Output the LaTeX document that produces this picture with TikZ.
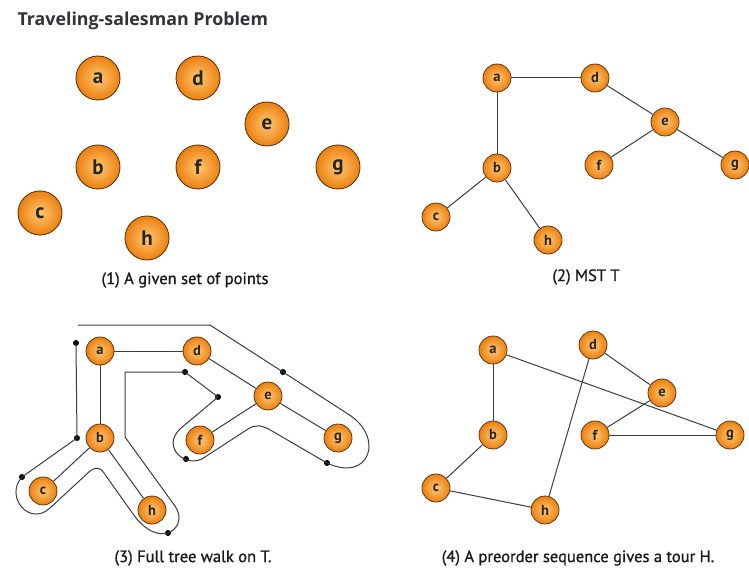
\documentclass[tikz,border=0pt]{standalone}
\usepackage{fontspec}
\setmainfont{PT Sans}
\newfontfamily\headfont{Open Sans}
\newfontfamily\capfont[FakeBold=0.9]{PT Sans}
\definecolor{ballout}{RGB}{236,128,16}
\definecolor{ballin}{RGB}{255,200,115}
\definecolor{ballrim}{RGB}{95,55,20}
\definecolor{edgegray}{RGB}{60,60,60}
\definecolor{titlegray}{RGB}{50,50,55}
\definecolor{capgray}{RGB}{25,25,25}
\begin{document}
\begin{tikzpicture}[x=1pt,y=-1pt,
  bigball/.style={circle, draw=ballrim, line width=0.9pt, inner color=ballin, outer color=ballout,
    minimum size=44pt, inner sep=0pt, font=\bfseries\fontsize{21}{21}\selectfont, text=black!85},
  smallball/.style={circle, draw=ballrim, line width=0.8pt, inner color=ballin, outer color=ballout,
    minimum size=28pt, inner sep=0pt, font=\bfseries\fontsize{14.5}{14.5}\selectfont, text=black!85},
  treeedge/.style={draw=edgegray, line width=1.0pt},
  walkline/.style={draw=edgegray, line width=1.0pt},
  walkdot/.style={circle, fill=black, inner sep=0pt, minimum size=6pt},
  caption/.style={font=\capfont\fontsize{16.5}{18}\selectfont, text=capgray},
]
\useasboundingbox (0,0) rectangle (749,569);

% heading
\node[anchor=west, font=\headfont\bfseries\fontsize{17.8}{20}\selectfont, text=titlegray]
  (title) at (14,21) {Traveling-salesman Problem};

% (1) the points
\foreach \n/\x/\y in {a/98/78, d/198/78, e/267/124, b/98/167, f/198/167, g/338/167, c/40/213, h/147/238}
  \node[bigball] (p1\n) at (\x,\y) {\n};
\node[caption] (cap1) at (185,280) {(1) A given set of points};

% (2) minimum spanning tree
\foreach \n/\x/\y in {a/497/78, d/595/78, e/665/122, b/497/168, f/599/165, g/735/165, c/436/217, h/548/240}
  \node[smallball] (p2\n) at (\x,\y) {\n};
\foreach \u/\v in {a/d, a/b, d/e, e/f, e/g, b/c, b/h}
  \draw[treeedge] (p2\u) -- (p2\v);
\node[caption] (cap2) at (586,277) {(2) MST T};

% (3) full walk around the tree
\foreach \n/\x/\y in {a/100/351, d/197/351, e/268/396, b/100/438, f/200/440, g/338/438, c/43/491, h/152/510}
  \node[smallball] (p3\n) at (\x,\y) {\n};
\foreach \u/\v in {a/d, a/b, d/e, e/f, e/g, b/c, b/h}
  \draw[treeedge] (p3\u) -- (p3\v);

\coordinate (wstart) at (78,325);
\node[walkdot] (w1) at (283,372) {};
\node[walkdot] (w2) at (327,463) {};
\node[walkdot] (w3) at (186,459) {};
\node[walkdot] (w4) at (218,397) {};
\node[walkdot] (w5) at (185,372) {};
\node[walkdot] (w6) at (168,533) {};
\node[walkdot] (w7) at (22,477) {};
\node[walkdot] (w8) at (77,438) {};
\node[walkdot] (w9) at (76,343) {};

\draw[walkline] (wstart) -- (210,325) -- (w1.center) -- (348,414)
  .. controls (385,437) and (370,483) .. (w2.center)
  -- (272,431) .. controls (262,425) and (256,424) .. (248,429)
  -- (205,457) .. controls (188,470) and (160,448) .. (180,429)
  -- (w4.center) -- (w5.center) -- (125,372) -- (125,437)
  -- (175,506) .. controls (190,527) and (160,552) .. (133,514)
  -- (104,473) .. controls (100,467) and (96,467) .. (90,471)
  -- (50,508) .. controls (30,527) and (4,497) .. (w7.center)
  -- (w8.center) -- (w9.center);
\node[caption] (cap3) at (193,558) {(3) Full tree walk on T.};

% (4) tour from the preorder sequence
\foreach \n/\x/\y in {a/493/350, d/593/345, e/662/393, b/493/435, f/595/435, g/730/435, c/436/488, h/545/510}
  \node[smallball] (p4\n) at (\x,\y) {\n};
\foreach \u/\v in {a/b, b/c, c/h, h/d, d/e, e/f, f/g, g/a}
  \draw[treeedge] (p4\u) -- (p4\v);
\node[caption] (cap4) at (578,558) {(4) A preorder sequence gives a tour H.};
\end{tikzpicture}
\end{document}
